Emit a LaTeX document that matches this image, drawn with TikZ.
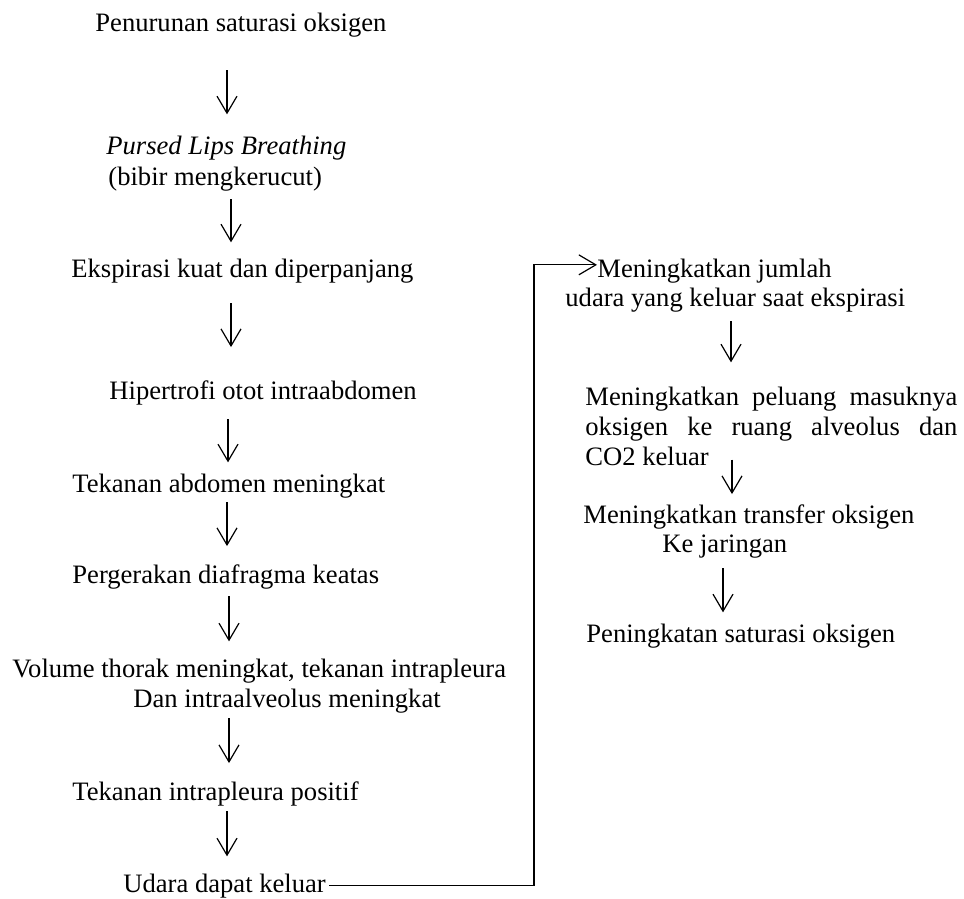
\documentclass[tikz,border=0pt]{standalone}
\usepackage{fontspec}
\setmainfont{Liberation Serif}
\usetikzlibrary{arrows.meta}

\begin{document}
\begin{tikzpicture}[x=0.5pt, y=-0.5pt,
    txt/.style={anchor=base west, inner sep=0pt, font=\fontsize{13.3}{15}\selectfont},
    flow/.style={-{Straight Barb[length=8.5pt, width=10pt]}, line width=0.6pt}]

    % Page frame
    \useasboundingbox (0,0) rectangle (964,899);

    % Columns of the arrows
    \coordinate (colA) at (229,0);
    \coordinate (colB) at (729,0);
    \coordinate (riser) at (534,0);

    % Left chain
    \node[txt] (turun)  at (95,32)  {Penurunan saturasi oksigen};
    \node[txt] (pursed) at (106,155) {\textit{Pursed Lips Breathing}};
    \node[txt] (bibir)  at (108,185) {(bibir mengkerucut)};
    \node[txt] (eksp)   at (71,277)  {Ekspirasi kuat dan diperpanjang};
    \node[txt] (hiper)  at (109,399) {Hipertrofi otot intraabdomen};
    \node[txt] (tekab)  at (72,492)  {Tekanan abdomen meningkat};
    \node[txt] (gerak)  at (72,583)  {Pergerakan diafragma keatas};
    \node[txt] (volume) at (12,677)  {Volume thorak meningkat, tekanan intrapleura};
    \node[txt] (dan)    at (133,707) {Dan intraalveolus meningkat};
    \node[txt] (tekip)  at (72,800)  {Tekanan intrapleura positif};
    \node[txt] (udara)  at (123,892) {Udara dapat keluar};

    % Right chain
    \node[txt] (jumlah)   at (597,277) {Meningkatkan jumlah};
    \node[txt] (keluar)   at (565,306) {udara yang keluar saat ekspirasi};
    \node[txt, text width=186pt, align=justify]
               (peluang)  at (585,405) {\hyphenpenalty=10000\relax
                   Meningkatkan peluang masuknya\linebreak
                   oksigen ke ruang alveolus dan\linebreak
                   CO2 keluar};
    \node[txt] (transfer) at (583,523) {Meningkatkan transfer oksigen};
    \node[txt] (jaringan) at (662,552) {Ke jaringan};
    \node[txt] (naik)     at (586,642) {Peningkatan saturasi oksigen};

    % Arrows, left: from/to/xshift/shorten start/shorten end
    \foreach \a/\b/\dx/\s/\e in {turun/pursed/-1/16/10.9, bibir/eksp/1/4/7.9,
        eksp/hiper/1/10/16.4, hiper/tekab/-0.5/7/5.4, tekab/gerak/-1/2/8.9,
        gerak/volume/0/3.5/8.4, dan/tekip/0/2.5/8.9, tekip/udara/-1/2.5/8.4}{
        \draw[flow, shorten <=\s pt, shorten >=\e pt]
            ([xshift=\dx pt]\a.south -| colA) -- ([xshift=\dx pt]\b.north -| colA);
    }

    % Arrows, right
    \foreach \a/\b/\dx/\s/\e in {keluar/peluang/1/4.5/11.9,
        peluang/transfer/1.5/-3/4.9, jaringan/naik/-3/5.1/5.4}{
        \draw[flow, shorten <=\s pt, shorten >=\e pt]
            ([xshift=\dx pt]\a.south -| colB) -- ([xshift=\dx pt]\b.north -| colB);
    }

    % Return line
    \draw[flow, shorten <=1.5pt] (udara.east) -- (udara.east -| riser) |- ([yshift=2.9pt]jumlah.west);

\end{tikzpicture}
\end{document}
